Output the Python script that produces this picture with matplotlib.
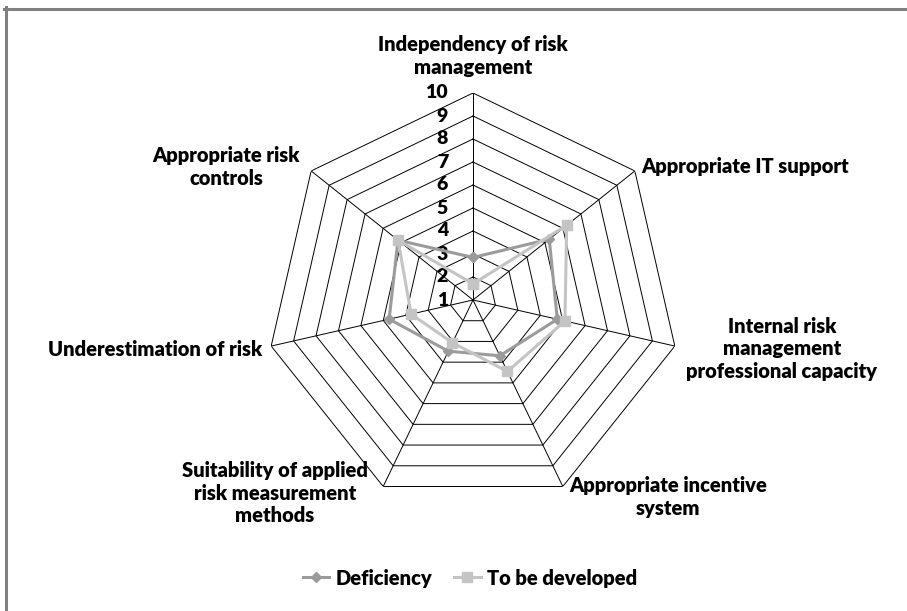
import numpy as np
import matplotlib
matplotlib.use("Agg")
import matplotlib.pyplot as plt
from matplotlib.lines import Line2D

categories = [
    "Independency of risk\nmanagement",
    "Appropriate IT support",
    "Internal risk\nmanagement\nprofessional capacity",
    "Appropriate incentive\nsystem",
    "Suitability of applied\nrisk measurement\nmethods",
    "Underestimation of risk",
    "Appropriate risk\ncontrols",
]
deficiency = [2.85, 5.24, 4.76, 3.69, 3.47, 4.74, 5.17]
to_be_developed = [1.7, 6.21, 5.10, 4.45, 3.06, 3.76, 5.17]
ticks = [1, 2, 3, 4, 5, 6, 7, 8, 9, 10]
series_names = ["Deficiency", "To be developed"]

FONT = "Lato"
WEIGHT = "heavy"
FS = 14.5
W, H = 907, 611
fig = plt.figure(figsize=(W / 100, H / 100), dpi=100)

cx, cy, R = 473, 300, 207
ax = fig.add_axes([(cx - R) / W, (H - cy - R) / H, 2 * R / W, 2 * R / H], projection="polar")
ax.set_theta_offset(np.pi / 2)
ax.set_theta_direction(-1)
ax.set_ylim(ticks[0], ticks[-1])
ax.grid(False)
ax.spines["polar"].set_visible(False)
ax.set_xticks([])
ax.set_yticks([])
ax.patch.set_alpha(0)

n = len(categories)
theta = np.arange(n) * 2 * np.pi / n
theta_c = np.concatenate([theta, theta[:1]])

for t in ticks[1:]:
    ax.plot(theta_c, [t] * (n + 1), color="black", lw=0.7, zorder=1)
for th in theta:
    ax.plot([th, th], [ticks[0], ticks[-1]], color="black", lw=0.7, zorder=1)

for t in ticks:
    ax.annotate(str(t), xy=(0, t), xytext=(-18, 0), textcoords="offset points",
                ha="right", va="center", fontsize=14, fontweight=WEIGHT,
                family=FONT, color="black")

c_def = "#9b9b9b"
c_tbd = "#c4c4c4"
ax.plot(theta_c, deficiency + deficiency[:1], color=c_def, lw=2.2, marker="D",
        markersize=5, zorder=3, clip_on=False)
ax.plot(theta_c, to_be_developed + to_be_developed[:1], color=c_tbd, lw=2.2, marker="s",
        markersize=7, zorder=4, clip_on=False)

def ftext(x, y, s, ha):
    fig.text(x / W, 1 - y / H, s, ha=ha, va="center", fontsize=FS, fontweight=WEIGHT,
             family=FONT, linespacing=1.2, multialignment="center")

ftext(473, 56, categories[0], "center")
ftext(641, 167, categories[1], "left")
ftext(782, 349, categories[2], "center")
ftext(668, 497, categories[3], "center")
ftext(275, 493, categories[4], "center")
ftext(262, 350, categories[5], "right")
ftext(226, 167, categories[6], "center")

handles = [
    Line2D([], [], color=c_def, lw=2.2, marker="D", markersize=5),
    Line2D([], [], color=c_tbd, lw=2.2, marker="s", markersize=7),
]
fig.legend(handles, series_names, loc="center", bbox_to_anchor=(470 / W, 1 - 578 / H),
           ncol=2, frameon=False, prop={"family": FONT, "weight": WEIGHT, "size": FS},
           handlelength=1.3, handletextpad=0.3, columnspacing=1.1)

fig.add_artist(Line2D([4 / W, 1.0], [1 - 8.5 / H, 1 - 8.5 / H], color="#808080", lw=2.2,
                      transform=fig.transFigure))
fig.add_artist(Line2D([5.5 / W, 5.5 / W], [0, 1 - 7 / H], color="#808080", lw=2.2,
                      transform=fig.transFigure))

fig.savefig("out.png", dpi=100)
